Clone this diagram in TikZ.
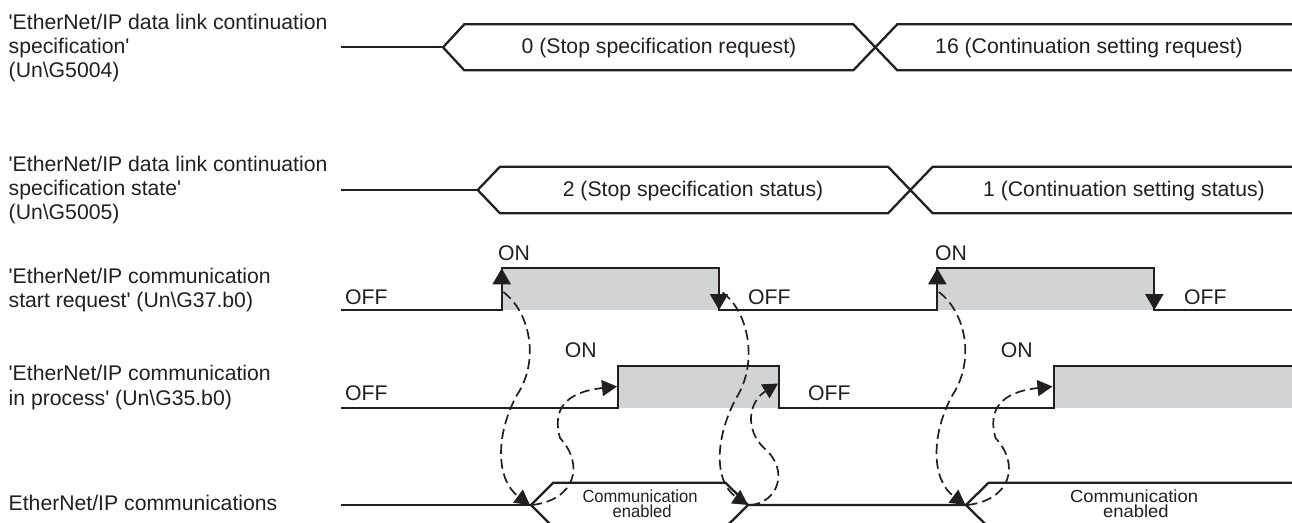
\documentclass[tikz,border=0pt]{standalone}
\usepackage{graphicx}
\usepackage{fontspec}
\setmainfont{Liberation Sans}[Ligatures=TeXOff]
\usetikzlibrary{arrows.meta}
\definecolor{ink}{HTML}{231F20}
\definecolor{hi}{HTML}{D1D3D4}
\tikzset{
  sig/.style={draw=ink, line width=2.3pt, line join=miter},
  lbl/.style={anchor=base west, inner sep=0pt, text=ink, font=\fontsize{21.2}{24}\selectfont},
  val/.style={anchor=base, inner sep=0pt, text=ink, font=\fontsize{21.2}{24}\selectfont},
  small/.style={anchor=base, inner sep=0pt, text=ink, font=\fontsize{17.5}{17.5}\selectfont},
  edgearr/.style={draw=ink, line width=2.3pt, -{Triangle[length=16pt,width=18pt]}},
  dasharr/.style={draw=ink, line width=1.7pt, dash pattern=on 10pt off 5pt, -{Triangle[length=15pt,width=16pt]}},
}
\begin{document}
\begin{tikzpicture}[x=1pt,y=-1pt]
\useasboundingbox (0,0) rectangle (1292,522);
\clip (0,0) rectangle (1292,522);

% ---- left labels
\node[lbl] (l1a) at (8.5,29.3) {'EtherNet/IP data link continuation};
\node[lbl] (l1b) at (8.5,53.3) {specification'};
\node[lbl] (l1c) at (8.5,77.3) {(Un\textbackslash G5004)};
\node[lbl] (l2a) at (8.5,171) {'EtherNet/IP data link continuation};
\node[lbl] (l2b) at (8.5,195) {specification state'};
\node[lbl] (l2c) at (8.5,219) {(Un\textbackslash G5005)};
\node[lbl] (l3a) at (8.5,283.3) {'EtherNet/IP communication};
\node[lbl] (l3b) at (8.5,307.7) {start request' (Un\textbackslash G37.b0)};
\node[lbl] (l4a) at (8.5,380.7) {'EtherNet/IP communication};
\node[lbl] (l4b) at (8.5,405) {in process' (Un\textbackslash G35.b0)};
\node[lbl] (l5a) at (8.5,510.7) {EtherNet/IP communications};

% ---- bus 1 (Un\G5004)
\draw[sig] (341,47.3) -- (443,47.3);
\draw[sig] (443,47.3) -- (464.3,24.3) -- (853.3,24.3) -- (897.3,70.3) -- (1300,70.3);
\draw[sig] (443,47.3) -- (464.3,70.3) -- (853.3,70.3) -- (897.3,24.3) -- (1300,24.3);
\node[val] (v1a) at (659,53.5) {0 (Stop specification request)};
\node[val] (v1b) at (1089,53.5) {16 (Continuation setting request)};

% ---- bus 2 (Un\G5005)
\draw[sig] (341,190) -- (477.7,190);
\draw[sig] (477.7,190) -- (500,166.7) -- (888,166.7) -- (932.7,213.3) -- (1300,213.3);
\draw[sig] (477.7,190) -- (500,213.3) -- (888,213.3) -- (932.7,166.7) -- (1300,166.7);
\node[val] (v2a) at (693,196.5) {2 (Stop specification status)};
\node[val] (v2b) at (1124,196.5) {1 (Continuation setting status)};

% ---- start request (Un\G37.b0)
\fill[hi] (501.7,268.3) rectangle (719,310);
\fill[hi] (937.3,268.3) rectangle (1154.3,310);
\draw[sig] (341,310) -- (501.7,310) -- (501.7,268.3) -- (719,268.3) -- (719,310)
  -- (937.3,310) -- (937.3,268.3) -- (1154.3,268.3) -- (1154.3,310) -- (1300,310);
\coordinate (up1s) at (501.7,300); \coordinate (up1e) at (501.7,268.3);
\coordinate (dn1s) at (719,280);   \coordinate (dn1e) at (719,310);
\coordinate (up2s) at (937.3,300); \coordinate (up2e) at (937.3,268.3);
\coordinate (dn2s) at (1154.3,280);\coordinate (dn2e) at (1154.3,310);
\draw[edgearr] (up1s) -- (up1e);
\draw[edgearr] (dn1s) -- (dn1e);
\draw[edgearr] (up2s) -- (up2e);
\draw[edgearr] (dn2s) -- (dn2e);
\node[lbl] (on1) at (498,260.7) {ON};
\node[lbl] (on2) at (935,260.7) {ON};
\node[lbl] (of1) at (345,304) {OFF};
\node[lbl] (of2) at (748,304) {OFF};
\node[lbl] (of3) at (1184,304) {OFF};

% ---- in process (Un\G35.b0)
\fill[hi] (618.3,366) rectangle (779,407.7);
\fill[hi] (1054,366) rectangle (1300,407.7);
\draw[sig] (341,407.7) -- (618.3,407.7) -- (618.3,366) -- (779,366) -- (779,407.7)
  -- (1054,407.7) -- (1054,366) -- (1300,366);
\node[lbl] (on3) at (564.7,357.7) {ON};
\node[lbl] (on4) at (1000.7,357.7) {ON};
\node[lbl] (of4) at (345,400.7) {OFF};
\node[lbl] (of5) at (808,400.7) {OFF};

% ---- communications bus
\draw[sig] (341,505) -- (531,505);
\draw[sig] (531,505) -- (553.3,482.7) -- (725.5,482.7) -- (748,505) -- (966,505);
\draw[sig] (531,505) -- (553.3,527.3) -- (725.5,527.3) -- (748,505);
\draw[sig] (966,505) -- (988.5,482.7) -- (1300,482.7);
\draw[sig] (966,505) -- (988.5,527.3) -- (1300,527.3);
\node[small] (ce1a) at (640,502.5) {\scalebox{0.946}[1]{Communication}};
\node[small] (ce1b) at (642.2,517.7) {\scalebox{0.946}[1]{enabled}};
\node[small] (ce2a) at (1134,502.5) {\scalebox{1.053}[1]{Communication}};
\node[small] (ce2b) at (1135.8,517.7) {\scalebox{1.053}[1]{enabled}};

% ---- dashed cause/effect arrows, both cycles
\foreach \s/\n in {0/1,435.5/2}{
  \coordinate (rq\n) at ({503.3+\s},292);
  \coordinate (ra\n) at ({517+\s},395);
  \coordinate (cm\n) at ({530+\s},505);
  \coordinate (cb\n) at ({532+\s},505);
  \coordinate (rb\n) at ({560+\s},438);
  \coordinate (ip\n) at ({617+\s},386.5);
  \draw[dasharr] (rq\n) .. controls ({530+\s},312) and ({540+\s},360) .. (ra\n)
     .. controls ({495+\s},435) and ({496+\s},480) .. (cm\n);
  \draw[dasharr] (cb\n) .. controls ({575+\s},500) and ({585+\s},465) .. (rb\n)
     .. controls ({552+\s},410) and ({565+\s},392) .. (ip\n);
}
\coordinate (fq) at (722.5,292.5);
\coordinate (fa) at (738,395);
\coordinate (fc) at (748,505);
\coordinate (fb0) at (750,505);
\coordinate (fb) at (764,448);
\coordinate (fp) at (778,383.5);
\draw[dasharr] (fq) .. controls (748,311) and (758,360) .. (fa)
   .. controls (714,437) and (714,482) .. (fc);
\draw[dasharr] (fb0) .. controls (778,503) and (790,470) .. (fb)
   .. controls (745,430) and (748,402) .. (fp);
\end{tikzpicture}
\end{document}
